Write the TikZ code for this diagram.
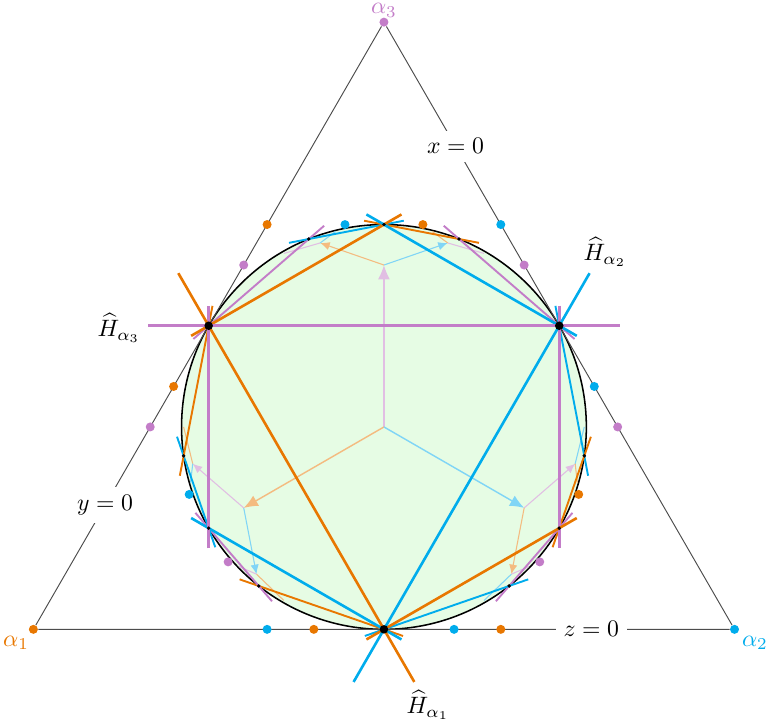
\documentclass[tikz,border=0pt]{standalone}
\usepackage{amsmath}
\usepackage{amssymb}
\usepackage{tikz}
\usepackage{xcolor}
\usetikzlibrary{arrows.meta, calc}

\definecolor{ora}{RGB}{232,119,0}
\definecolor{blu}{RGB}{0,172,236}
\definecolor{pur}{RGB}{195,125,200}
\definecolor{lgreen}{RGB}{230,252,228}

\begin{document}
\begin{tikzpicture}[x=1.5cm, y=1.5cm,
    side/.style={black!70, line width=0.4pt},
    hone/.style={line width=1.1pt, shorten <=-0.9cm, shorten >=-0.9cm},
    htwo/.style={line width=1.1pt, shorten <=-0.3cm, shorten >=-0.3cm},
    hthree/.style={line width=0.8pt, shorten <=-0.3cm, shorten >=-0.3cm},
    arone/.style={line width=0.6pt, -{Latex[length=6pt, width=5pt]}},
    artwo/.style={line width=0.45pt, -{Latex[length=4pt, width=3.5pt]}},
    arthree/.style={line width=0.45pt},
    pole/.style={circle, inner sep=0pt, minimum size=3.8pt},
    bigdot/.style={circle, fill=black, inner sep=0pt, minimum size=3.6pt},
    smalldot/.style={circle, fill=black, inner sep=0pt, minimum size=1.6pt}]
    \useasboundingbox (-3.794,-2.895) rectangle (3.785,4.219);

    \coordinate (o) at (0,0);
    \coordinate (p1) at (270:2);
    \coordinate (p2) at (30:2);
    \coordinate (p3) at (150:2);
    \coordinate (q1) at (210:2);
    \coordinate (q2) at (330:2);
    \coordinate (q3) at (90:2);
    \coordinate (r1) at (111.787:2);
    \coordinate (r2) at (68.213:2);
    \coordinate (r3) at (351.787:2);
    \coordinate (r4) at (308.213:2);
    \coordinate (r5) at (231.787:2);
    \coordinate (r6) at (188.213:2);

    \coordinate (m1) at (210:1.6);
    \coordinate (m2) at (330:1.6);
    \coordinate (m3) at (90:1.6);
    \coordinate (n1) at (109.107:1.9242);
    \coordinate (n2) at (70.893:1.9242);
    \coordinate (n3) at (349.107:1.9242);
    \coordinate (n4) at (310.893:1.9242);
    \coordinate (n5) at (229.107:1.9242);
    \coordinate (n6) at (190.893:1.9242);

    \filldraw[fill=lgreen, draw=black, line width=0.65pt] (o) circle (2);

    \node[pole, fill=ora] (a1) at (210:4) {};
    \node[pole, fill=blu] (a2) at (330:4) {};
    \node[pole, fill=pur] (a3) at (90:4) {};
    \node[ora, inner sep=0.5pt] (la1) at (-3.636,-2.134) {$\alpha_1$};
    \node[blu, inner sep=0.5pt] (la2) at (3.666,-2.134) {$\alpha_2$};
    \node[pur, inner sep=0.5pt] (la3) at (0,4.115) {$\alpha_3$};

    \draw[side] (a1) -- node[pos=0.2, fill=white, text=black] {$y=0$} (a3)
        -- node[pos=0.2, fill=white, text=black] {$x=0$} (a2)
        -- node[pos=0.2, fill=white, text=black] {$z=0$} (a1);

    \draw[arone, pur!50] (o) -- (m3);
    \draw[arone, ora!50] (o) -- (m1);
    \draw[arone, blu!50] (o) -- (m2);

    \draw[artwo, ora!50] (m3) -- (n1);
    \draw[artwo, blu!50] (m3) -- (n2);
    \draw[artwo, pur!50] (m2) -- (n3);
    \draw[artwo, ora!50] (m2) -- (n4);
    \draw[artwo, blu!50] (m1) -- (n5);
    \draw[artwo, pur!50] (m1) -- (n6);

    \draw[arthree, pur!50] (n1) -- (120:1.9795);
    \draw[arthree, blu!50] (n1) -- (103.9:1.9893);
    \draw[arthree, pur!50] (n2) -- (60:1.9795);
    \draw[arthree, ora!50] (n2) -- (76.1:1.9893);
    \draw[arthree, blu!50] (n3) -- (0:1.9795);
    \draw[arthree, ora!50] (n3) -- (343.9:1.9893);
    \draw[arthree, blu!50] (n4) -- (300:1.9795);
    \draw[arthree, pur!50] (n4) -- (316.1:1.9893);
    \draw[arthree, ora!50] (n5) -- (240:1.9795);
    \draw[arthree, pur!50] (n5) -- (223.9:1.9893);
    \draw[arthree, ora!50] (n6) -- (180:1.9795);
    \draw[arthree, blu!50] (n6) -- (196.1:1.9893);

    \draw[hthree, pur] (p3) -- (r1);
    \draw[hthree, blu] (r1) -- (q3);
    \draw[hthree, ora] (q3) -- (r2);
    \draw[hthree, pur] (r2) -- (p2);
    \draw[hthree, blu] (p2) -- (r3);
    \draw[hthree, ora] (r3) -- (q2);
    \draw[hthree, pur] (q2) -- (r4);
    \draw[hthree, blu] (r4) -- (p1);
    \draw[hthree, ora] (p1) -- (r5);
    \draw[hthree, pur] (r5) -- (q1);
    \draw[hthree, blu] (q1) -- (r6);
    \draw[hthree, ora] (r6) -- (p3);

    \draw[htwo, ora] (p3) -- (q3);
    \draw[htwo, blu] (q3) -- (p2);
    \draw[htwo, pur] (p2) -- (q2);
    \draw[htwo, ora] (q2) -- (p1);
    \draw[htwo, blu] (p1) -- (q1);
    \draw[htwo, pur] (q1) -- (p3);

    \draw[hone, ora] (p3) -- (p1);
    \draw[hone, blu] (p1) -- (p2);
    \draw[hone, pur] (p2) -- (p3);

    \node[pole, fill=ora] (e1) at (120:2.3094) {};
    \node[pole, fill=blu] (e2) at (60:2.3094) {};
    \node[pole, fill=pur] (e3) at (0:2.3094) {};
    \node[pole, fill=ora] (e4) at (300:2.3094) {};
    \node[pole, fill=blu] (e5) at (240:2.3094) {};
    \node[pole, fill=pur] (e6) at (180:2.3094) {};

    \node[pole, fill=pur] (f1) at (130.893:2.1166) {};
    \node[pole, fill=blu] (f2) at (100.893:2.0367) {};
    \node[pole, fill=ora] (f3) at (79.107:2.0367) {};
    \node[pole, fill=pur] (f4) at (49.107:2.1166) {};
    \node[pole, fill=blu] (f5) at (10.893:2.1166) {};
    \node[pole, fill=ora] (f6) at (340.893:2.0367) {};
    \node[pole, fill=pur] (f7) at (319.107:2.0367) {};
    \node[pole, fill=blu] (f8) at (289.107:2.1166) {};
    \node[pole, fill=ora] (f9) at (250.893:2.1166) {};
    \node[pole, fill=pur] (f10) at (220.893:2.0367) {};
    \node[pole, fill=blu] (f11) at (199.107:2.0367) {};
    \node[pole, fill=ora] (f12) at (169.107:2.1166) {};

    \node[smalldot] (dq1) at (q1) {};
    \node[smalldot] (dq2) at (q2) {};
    \node[smalldot] (dq3) at (q3) {};
    \node[smalldot] (dr1) at (r1) {};
    \node[smalldot] (dr2) at (r2) {};
    \node[smalldot] (dr3) at (r3) {};
    \node[smalldot] (dr4) at (r4) {};
    \node[smalldot] (dr5) at (r5) {};
    \node[smalldot] (dr6) at (r6) {};
    \node[bigdot] (dp1) at (p1) {};
    \node[bigdot] (dp2) at (p2) {};
    \node[bigdot] (dp3) at (p3) {};

    \node (lh1) at (0.435,-2.747) {$\widehat{H}_{\alpha_1}$};
    \node (lh2) at (2.184,1.729) {$\widehat{H}_{\alpha_2}$};
    \node (lh3) at (-2.619,0.978) {$\widehat{H}_{\alpha_3}$};
\end{tikzpicture}
\end{document}
